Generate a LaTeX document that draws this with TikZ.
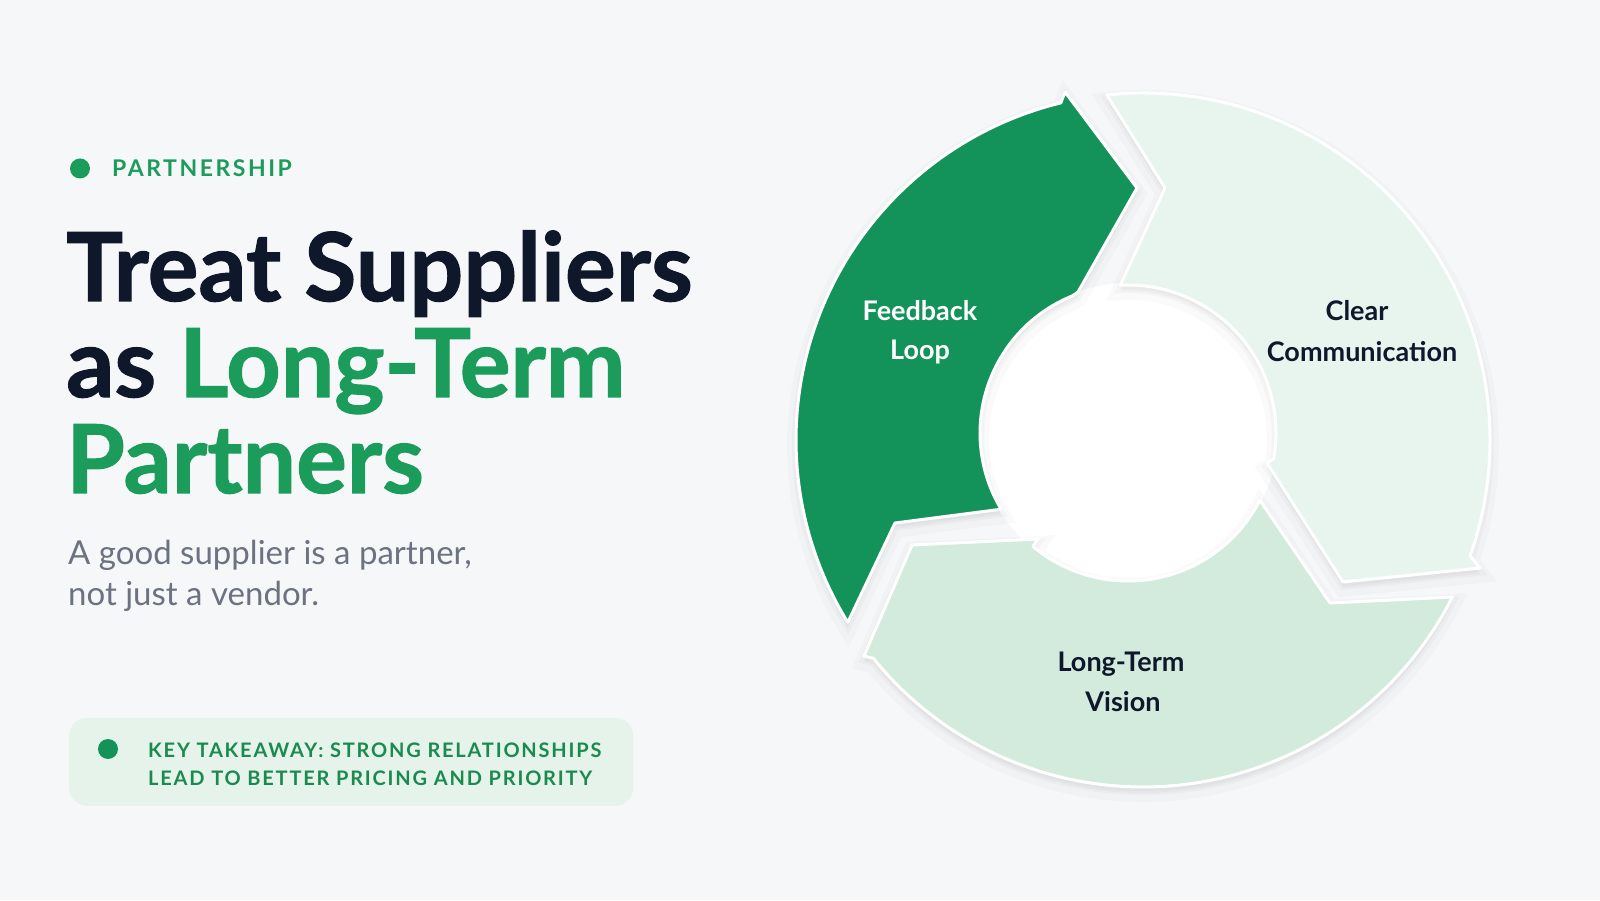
\documentclass[tikz,border=0pt]{standalone}
\usepackage{fontspec}
\setmainfont{Lato}
\usetikzlibrary{calc}
\definecolor{bg}{HTML}{F6F7F9}
\definecolor{navy}{HTML}{0F172A}
\definecolor{brand}{HTML}{1B9C5A}
\definecolor{darkarrow}{HTML}{13935A}
\definecolor{clearfill}{HTML}{E8F5EE}
\definecolor{ltvfill}{HTML}{D3EBDD}
\definecolor{subgray}{HTML}{6B7280}
\definecolor{boxfill}{HTML}{E5F3EA}
\definecolor{keytext}{HTML}{1A8A50}
\tikzset{
  fbpath/.style={insert path={($(O)+(211.7:347)$) arc[start angle=211.7,end angle=103.7,radius=347] -- (1065,808) -- (1137,712) -- (1078,608) -- ($(I)+(112:148)$) arc[start angle=112,end angle=211,radius=148] -- (895,377) -- cycle}},
  ccpath/.style={insert path={($(O)+(96:347)$) arc[start angle=96,end angle=-19.5,radius=347] -- (1480,332) -- (1343,318) -- (1267,437) -- ($(I)+(-10:148)$) arc[start angle=-10,end angle=93,radius=148] -- (1165,712) -- cycle}},
  ltpath/.style={insert path={($(O)+(-26.9:347)$) arc[start angle=-26.9,end angle=-141,radius=347] -- (864,244) -- (912,355) -- (1038,361) -- ($(I)+(230:148)$) arc[start angle=230,end angle=333,radius=148] -- (1330,297) -- cycle}},
  shadowwide/.style={fill=black, fill opacity=0.025, draw=black, draw opacity=0.02, line width=18, transform canvas={yshift=-6pt}},
  shadowmid/.style={fill=black, fill opacity=0.02, draw=black, draw opacity=0.025, line width=8, transform canvas={yshift=-4pt}},
  arrowshape/.style={draw=white, line width=3, line join=round},
  lab/.style={anchor=base, inner sep=0, font=\fontsize{27}{32}\selectfont\bfseries},
  titleline/.style={anchor=base west, inner sep=0, text=navy, font=\fontsize{95}{100}\selectfont\bfseries\addfontfeatures{FakeBold=1.2}},
  subline/.style={anchor=base west, inner sep=0, text=subgray, font=\fontsize{33}{40}\selectfont},
  keyline/.style={anchor=base west, inner sep=0, text=keytext, font=\fontsize{20}{24}\selectfont\bfseries\addfontfeatures{LetterSpace=9}},
  dot/.style={circle, fill=brand, inner sep=0, minimum size=20}
}
\begin{document}
\begin{tikzpicture}[x=1pt,y=1pt]
\useasboundingbox (0,0) rectangle (1600,900);
\fill[bg] (0,0) rectangle (1600,900);

% ---- left column ----
\node[dot] (tagdot) at (80,731.5) {};
\node[anchor=base west, inner sep=0, text=brand, font=\fontsize{23}{28}\selectfont\bfseries\addfontfeatures{LetterSpace=11}] (tag) at (112,723.5) {PARTNERSHIP};

\node[titleline] (t1) at (66,599) {Treat Suppliers};
\node[titleline] (t2) at (66,503) {as \textcolor{brand}{Long-Term}};
\node[titleline, text=brand] (t3) at (66,407) {Partners};

\node[subline] (s1) at (68,335) {A good supplier is a partner,};
\node[subline] (s2) at (68,294) {not just a vendor.};

\node[anchor=south west, fill=boxfill, rounded corners=18, minimum width=564, minimum height=88, inner sep=0] (box) at (69,94) {};
\node[dot, fill=darkarrow] (keydot) at (108,151) {};
\node[keyline] (k1) at (148,143) {KEY TAKEAWAY: STRONG RELATIONSHIPS};
\node[keyline] (k2) at (148,115) {LEAD TO BETTER PRICING AND PRIORITY};

% ---- cycle diagram ----
\coordinate (O) at (1143,460);
\coordinate (I) at (1128,467);
\fill[white] (I) circle[radius=150];

\path[shadowwide, fbpath];
\path[shadowwide, ccpath];
\path[shadowwide, ltpath];
\path[shadowmid, fbpath];
\path[shadowmid, ccpath];
\path[shadowmid, ltpath];

\path[arrowshape, fill=clearfill, ccpath];
\path[arrowshape, fill=ltvfill, ltpath];
\path[arrowshape, fill=darkarrow, fbpath];

\node[lab, text=white] (fb1) at (920,579) {Feedback};
\node[lab, text=white] (fb2) at (920,540) {Loop};
\node[lab, text=navy] (cc1) at (1357,579) {Clear};
\node[lab, text=navy] (cc2) at (1362,538) {Communication};
\node[lab, text=navy] (lt1) at (1121,229) {Long-Term};
\node[lab, text=navy] (lt2) at (1123,189) {Vision};
\end{tikzpicture}
\end{document}
